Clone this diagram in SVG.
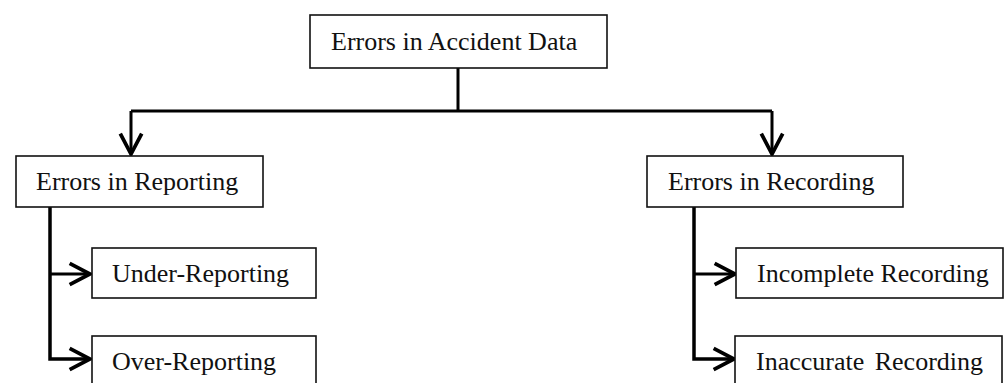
<svg xmlns="http://www.w3.org/2000/svg" width="1005" height="383" viewBox="0 0 1005 383">
<style>
.box{fill:#fff;stroke:#111;stroke-width:1.6}
.lbl{font-family:"Liberation Serif","Times New Roman",serif;font-size:26px;fill:#111}
.con{fill:none;stroke:#000;stroke-width:3}
</style>
<defs>
<marker id="arr" markerUnits="userSpaceOnUse" markerWidth="30" markerHeight="30" viewBox="-24 -14 28 28" refX="0" refY="0" orient="auto">
<path d="M-19,-10 L0,0 L-19,10" fill="none" stroke="#000" stroke-width="3.5" stroke-linejoin="miter"/>
</marker>
</defs>
<rect width="1005" height="383" fill="#fff"/>
<g id="connectors">
<path class="con" d="M458,68 V111"/>
<path class="con" d="M131,111 H772"/>
<path class="con" d="M131,111 V154" marker-end="url(#arr)"/>
<path class="con" d="M772,111 V154" marker-end="url(#arr)"/>
<path class="con" d="M50,207 V359 H90" marker-end="url(#arr)" style="stroke-width:3.5"/>
<path class="con" d="M50,274 H90" marker-end="url(#arr)"/>
<path class="con" d="M694,207 V359 H734" marker-end="url(#arr)" style="stroke-width:3.5"/>
<path class="con" d="M694,274 H735" marker-end="url(#arr)"/>
</g>
<g id="n-root"><rect class="box" x="310" y="15" width="297" height="53"/><text class="lbl" x="331" y="50">Errors in Accident Data</text></g>
<g id="n-reporting"><rect class="box" x="16" y="156" width="247" height="51"/><text class="lbl" x="36" y="190">Errors in Reporting</text></g>
<g id="n-recording"><rect class="box" x="647" y="156" width="256" height="51"/><text class="lbl" x="668" y="190">Errors in Recording</text></g>
<g id="n-under"><rect class="box" x="92" y="248" width="224" height="50"/><text class="lbl" x="112" y="282">Under-Reporting</text></g>
<g id="n-over"><rect class="box" x="92" y="336" width="224" height="60"/><text class="lbl" x="112" y="370">Over-Reporting</text></g>
<g id="n-incomplete"><rect class="box" x="736" y="248" width="267" height="50"/><text class="lbl" x="757" y="282">Incomplete Recording</text></g>
<g id="n-inaccurate"><rect class="box" x="735" y="336" width="267" height="60"/><text class="lbl" x="756" y="370" word-spacing="4">Inaccurate Recording</text></g>
</svg>
